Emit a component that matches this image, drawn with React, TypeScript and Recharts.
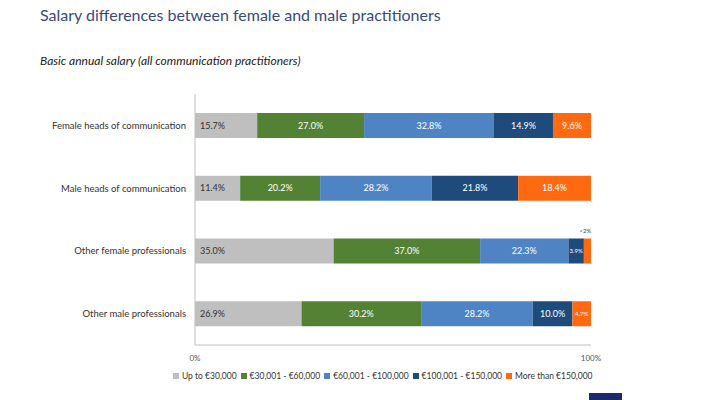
import { BarChart, Bar, XAxis, YAxis, LabelList } from 'recharts';

const categories = [
  'Female heads of communication',
  'Male heads of communication',
  'Other female professionals',
  'Other male professionals',
];

const bandNames = ['Up to €30,000', '€30,001 - €60,000', '€60,001 - €100,000', '€100,001 - €150,000', 'More than €150,000'];
const bandKeys = ['b1', 'b2', 'b3', 'b4', 'b5'];
const bandColors = ['#bfbfbf', '#548235', '#4f84c4', '#1f4a7c', '#ff6a10'];

const upTo30k = [15.7, 11.4, 35.0, 26.9];
const from30kTo60k = [27.0, 20.2, 37.0, 30.2];
const from60kTo100k = [32.8, 28.2, 22.3, 28.2];
const from100kTo150k = [14.9, 21.8, 3.9, 10.0];
const over150k = [9.6, 18.4, 1.8, 4.7];

const data = categories.map((name, i) => ({
  name,
  b1: upTo30k[i],
  b2: from30kTo60k[i],
  b3: from60kTo100k[i],
  b4: from100kTo150k[i],
  b5: over150k[i],
}));

const FONT = 'Lato, "Open Sans", "Liberation Sans", sans-serif';

const makeLabel = (key: string) => (props: any) => {
  const { x, y, width, height, value } = props;
  if (value == null) return null;
  const cy = y + height / 2;
  if (key === 'b1') {
    return (
      <text x={x + 5} y={cy} dy={3.2} fontSize={9} fill="#333" fontFamily={FONT}>
        {value.toFixed(1)}%
      </text>
    );
  }
  if (value < 2) {
    return (
      <text x={x + width / 2 - 2} y={y - 6} textAnchor="middle" fontSize={6} fill="#444" fontFamily={FONT}>
        {'<2%'}
      </text>
    );
  }
  const small = value < 5;
  return (
    <text
      x={x + width / 2}
      y={cy}
      dy={small ? 2.2 : 3.2}
      textAnchor="middle"
      fontSize={small ? 6 : 9}
      fill="#fff"
      fontFamily={FONT}
    >
      {value.toFixed(1)}%
    </text>
  );
};

const CategoryTick = (props: any) => {
  const { x, y, payload } = props;
  return (
    <text x={x} y={y} dy={3.5} textAnchor="end" fontSize={9.5} fill="#333" fontFamily={FONT}>
      {payload.value}
    </text>
  );
};

export default function App() {
  return (
    <div style={{ position: 'absolute', left: 0, top: 0, width: 710, height: 400, background: '#fff', fontFamily: FONT, overflow: 'hidden' }}>
      <div style={{ position: 'absolute', left: 40, top: 5, fontSize: 16, color: '#3c4a78', whiteSpace: 'nowrap' }}>
        Salary differences between female and male practitioners
      </div>
      <div style={{ position: 'absolute', left: 40, top: 53, fontSize: 12, fontStyle: 'italic', color: '#222', whiteSpace: 'nowrap' }}>
        Basic annual salary (all communication practitioners)
      </div>

      <div style={{ position: 'absolute', left: 0, top: 0 }}>
        <BarChart
          width={710}
          height={400}
          data={data}
          layout="vertical"
          margin={{ top: 94, right: 119, bottom: 35, left: 0 }}
        >
          <XAxis
            type="number"
            domain={[0, 100]}
            ticks={[0, 100]}
            tickFormatter={(v) => `${v}%`}
            axisLine={{ stroke: '#bfbfbf' }}
            tickLine={false}
            tick={{ fontSize: 8, fill: '#555', fontFamily: FONT }}
            height={20}
            tickMargin={4}
          />
          <YAxis
            yAxisId="a"
            type="number"
            domain={[0, 4]}
            ticks={[0, 1, 2, 3, 4]}
            reversed
            width={4}
            tick={false}
            tickSize={4}
            axisLine={{ stroke: '#bfbfbf' }}
            tickLine={{ stroke: '#bfbfbf' }}
          />
          <YAxis
            yAxisId="z"
            type="category"
            dataKey="name"
            width={191}
            axisLine={false}
            tickLine={false}
            tickSize={0}
            tickMargin={5}
            tick={<CategoryTick />}
          />
          {bandKeys.map((k, i) => (
            <Bar key={k} yAxisId="z" dataKey={k} name={bandNames[i]} stackId="s" fill={bandColors[i]} barSize={25} isAnimationActive={false}>
              <LabelList dataKey={k} content={makeLabel(k)} />
            </Bar>
          ))}
        </BarChart>
      </div>

      <div style={{ position: 'absolute', left: 173, top: 371, display: 'flex', gap: 4, fontSize: 8.5, color: '#333', whiteSpace: 'nowrap' }}>
        {bandNames.map((n, i) => (
          <span key={n} style={{ display: 'flex', alignItems: 'center' }}>
            <span style={{ display: 'inline-block', width: 6, height: 6, background: bandColors[i], marginRight: 3 }} />
            {n}
          </span>
        ))}
      </div>

      <div style={{ position: 'absolute', left: 589, top: 393, width: 33, height: 7, background: '#1b2a6b' }} />
    </div>
  );
}
